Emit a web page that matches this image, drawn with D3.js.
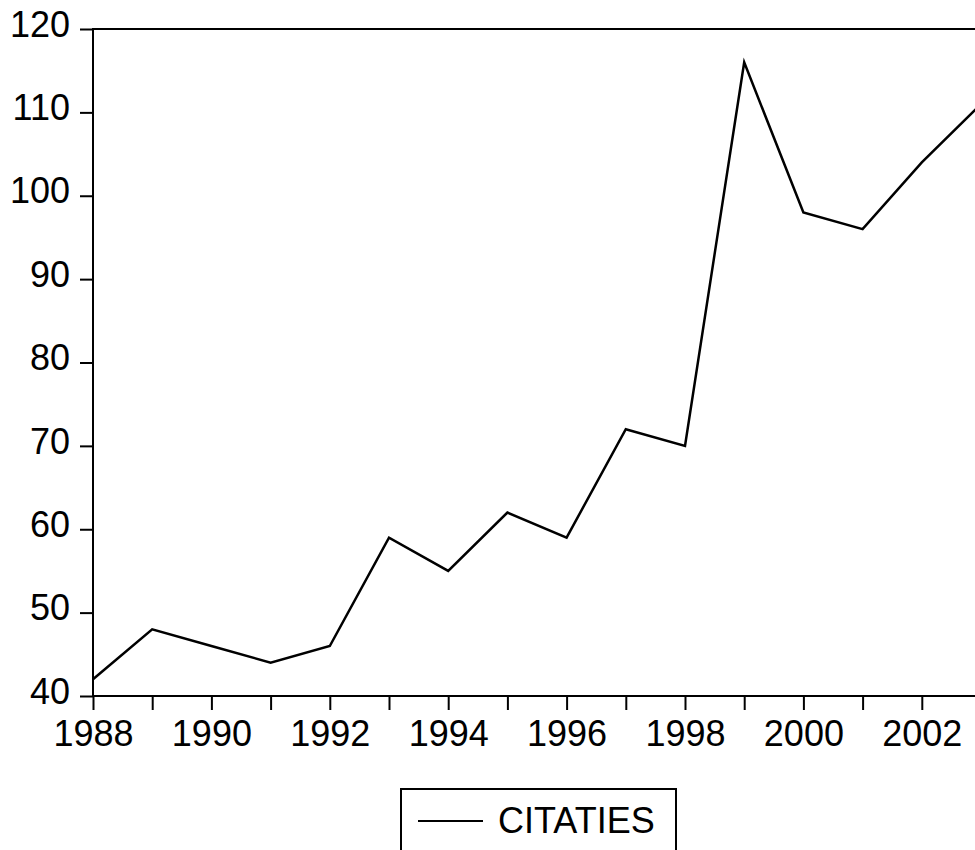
<!DOCTYPE html>
<html>
<head>
<meta charset="utf-8">
<script src="https://cdn.jsdelivr.net/npm/d3@7"></script>
<style>
  body { margin: 0; background: #fff; }
  text { font-family: "Liberation Sans", Arial, sans-serif; fill: #000; }
</style>
</head>
<body>
<div id="chart"></div>
<script>
var years = [1988, 1989, 1990, 1991, 1992, 1993, 1994, 1995, 1996, 1997, 1998, 1999, 2000, 2001, 2002, 2003];
var citaties = [42, 48, 46, 44, 46, 59, 55, 62, 59, 72, 70, 116, 98, 96, 104, 111];
var yTicks = [40, 50, 60, 70, 80, 90, 100, 110, 120];
var xTickLabels = [1988, 1990, 1992, 1994, 1996, 1998, 2000, 2002];
var seriesName = "CITATIES";

var margin = {top: 29, right: -6, bottom: 154, left: 93},
    width = 975 - margin.left - margin.right,
    height = 850 - margin.top - margin.bottom;

var svg = d3.select("#chart").append("svg")
  .attr("width", 975)
  .attr("height", 850);

var g = svg.append("g")
  .attr("transform", "translate(" + margin.left + "," + margin.top + ")");

var x = d3.scaleLinear().domain([1988, 2003]).range([0, width]);
var y = d3.scaleLinear().domain([40, 120]).range([height, 0]);

// frame
g.append("rect")
  .attr("x", 0).attr("y", 0)
  .attr("width", width).attr("height", height)
  .attr("fill", "none")
  .attr("stroke", "#000")
  .attr("stroke-width", 2);

var yAxis = d3.axisLeft(y).tickValues(yTicks).tickSize(13).tickPadding(10);
var xAxis = d3.axisBottom(x).tickValues(years.slice(0, 15))
  .tickSize(14).tickPadding(10)
  .tickFormat(function (d) { return xTickLabels.indexOf(d) >= 0 ? d : ""; });

g.append("g")
  .attr("class", "y axis")
  .call(yAxis)
  .call(function (a) {
    a.select(".domain").remove();
    a.selectAll("line").attr("stroke-width", 2);
    a.selectAll("text").style("font-size", "36px").attr("dy", "0.2em").attr("fill", "#000");
  });

g.append("g")
  .attr("class", "x axis")
  .attr("transform", "translate(0," + height + ")")
  .call(xAxis)
  .call(function (a) {
    a.select(".domain").remove();
    a.selectAll("line").attr("stroke-width", 2);
    a.selectAll("text").style("font-size", "36px").attr("dy", "0.71em").attr("fill", "#000");
  });

var line = d3.line()
  .x(function (d, i) { return x(years[i]); })
  .y(function (d) { return y(d); });

g.append("path")
  .datum(citaties)
  .attr("fill", "none")
  .attr("stroke", "#000")
  .attr("stroke-width", 2.5)
  .attr("stroke-linejoin", "miter")
  .attr("d", line);

// legend
var legend = svg.append("g").attr("transform", "translate(401,789)");
legend.append("rect")
  .attr("width", 275).attr("height", 80)
  .attr("fill", "none").attr("stroke", "#000").attr("stroke-width", 2);
legend.append("line")
  .attr("x1", 17).attr("x2", 82).attr("y1", 32).attr("y2", 32)
  .attr("stroke", "#000").attr("stroke-width", 2);
legend.append("text")
  .attr("x", 97).attr("y", 44)
  .style("font-size", "36px")
  .text(seriesName);
</script>
</body>
</html>
